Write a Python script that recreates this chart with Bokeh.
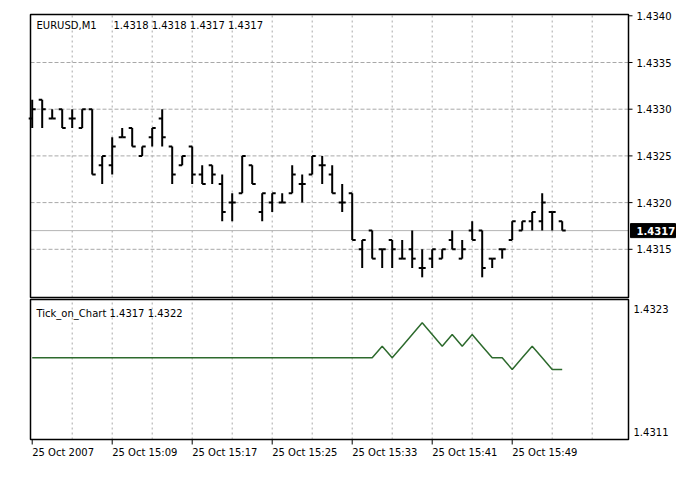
import numpy as np
from bokeh.plotting import figure
from bokeh.models import ColumnDataSource, Range1d
from bokeh.core.properties import value
from bokeh.embed import file_html
from bokeh.resources import INLINE

# ---------------- data ----------------
symbol = "EURUSD,M1"
indicator_name = "Tick_on_Chart"

opens = [1.4329, 1.4331, 1.4329, 1.4330, 1.4329, 1.4328, 1.4330, 1.4324, 1.4324, 1.4327,
         1.4328, 1.4325, 1.4327, 1.4329, 1.4326, 1.4324, 1.4326, 1.4323, 1.4324, 1.4322,
         1.4320, 1.4321, 1.4324, 1.4319, 1.4320, 1.4320, 1.4321, 1.4322, 1.4323, 1.4324,
         1.4323, 1.4320, 1.4321, 1.4315, 1.4317, 1.4315, 1.4316, 1.4314, 1.4315, 1.4313,
         1.4314, 1.4314, 1.4316, 1.4314, 1.4317, 1.4317, 1.4314, 1.4315, 1.4316, 1.4317,
         1.4318, 1.4318, 1.4319, 1.4318]
highs = [1.4331, 1.4331, 1.4330, 1.4330, 1.4330, 1.4330, 1.4330, 1.4325, 1.4327, 1.4328,
         1.4328, 1.4326, 1.4328, 1.4330, 1.4326, 1.4325, 1.4326, 1.4324, 1.4324, 1.4323,
         1.4321, 1.4325, 1.4324, 1.4321, 1.4321, 1.4321, 1.4324, 1.4323, 1.4325, 1.4325,
         1.4324, 1.4322, 1.4321, 1.4316, 1.4317, 1.4315, 1.4316, 1.4316, 1.4317, 1.4315,
         1.4315, 1.4315, 1.4317, 1.4316, 1.4318, 1.4317, 1.4314, 1.4315, 1.4318, 1.4318,
         1.4319, 1.4321, 1.4319, 1.4318]
lows = [1.4328, 1.4328, 1.4329, 1.4328, 1.4328, 1.4328, 1.4323, 1.4322, 1.4323, 1.4327,
        1.4326, 1.4325, 1.4326, 1.4326, 1.4322, 1.4324, 1.4322, 1.4322, 1.4322, 1.4318,
        1.4318, 1.4321, 1.4322, 1.4318, 1.4319, 1.4320, 1.4321, 1.4320, 1.4323, 1.4322,
        1.4321, 1.4319, 1.4316, 1.4313, 1.4314, 1.4313, 1.4313, 1.4314, 1.4313, 1.4312,
        1.4313, 1.4314, 1.4315, 1.4314, 1.4316, 1.4312, 1.4313, 1.4314, 1.4316, 1.4317,
        1.4317, 1.4317, 1.4317, 1.4317]
closes = [1.4330, 1.4330, 1.4329, 1.4328, 1.4329, 1.4330, 1.4323, 1.4325, 1.4326, 1.4327,
          1.4326, 1.4326, 1.4328, 1.4327, 1.4323, 1.4325, 1.4323, 1.4322, 1.4323, 1.4319,
          1.4320, 1.4325, 1.4322, 1.4321, 1.4321, 1.4320, 1.4323, 1.4322, 1.4325, 1.4324,
          1.4321, 1.4320, 1.4316, 1.4316, 1.4314, 1.4315, 1.4315, 1.4314, 1.4314, 1.4313,
          1.4315, 1.4315, 1.4315, 1.4315, 1.4316, 1.4313, 1.4314, 1.4315, 1.4318, 1.4318,
          1.4319, 1.4320, 1.4319, 1.4317]

tick_line = [1.4318, 1.4318, 1.4318, 1.4318, 1.4318, 1.4318, 1.4318, 1.4318, 1.4318, 1.4318,
             1.4318, 1.4318, 1.4318, 1.4318, 1.4318, 1.4318, 1.4318, 1.4318, 1.4318, 1.4318,
             1.4318, 1.4318, 1.4318, 1.4318, 1.4318, 1.4318, 1.4318, 1.4318, 1.4318, 1.4318,
             1.4318, 1.4318, 1.4318, 1.4318, 1.4318, 1.4319, 1.4318, 1.4319, 1.4320, 1.4321,
             1.4320, 1.4319, 1.4320, 1.4319, 1.4320, 1.4319, 1.4318, 1.4318, 1.4317, 1.4318,
             1.4319, 1.4318, 1.4317, 1.4317]
tick_second = 1.4322

price_ticks = [1.4315, 1.4320, 1.4325, 1.4330, 1.4335, 1.4340]
price_labels = ["1.4315", "1.4320", "1.4325", "1.4330", "1.4335", "1.4340"]
time_tick_bars = [0, 8, 16, 24, 32, 40, 48]
time_tick_labels = ["25 Oct 2007", "25 Oct 15:09", "25 Oct 15:17", "25 Oct 15:25",
                    "25 Oct 15:33", "25 Oct 15:41", "25 Oct 15:49"]
grid_bars = [4, 8, 12, 16, 20, 24, 28, 32, 36, 40, 44, 48, 52, 56]
ind_min, ind_max = 1.4311, 1.4323
ind_labels = ["1.4323", "1.4311"]

# ---------------- geometry (page pixels) ----------------
FONT = value("DejaVu Sans")
FS = value("10px")
W, H = 688, 470
CH_L, CH_R = 30, 628            # window left / right edge
MAIN_T, MAIN_B = 14, 297        # price window top / bottom edge
IND_T, IND_B = 299, 439         # indicator window top / bottom edge

BAR_PX = 10.0                   # one bar per 10 px
BAR0_PX = 31.7                  # pixel of bar 0
PIP_PX = 9.34                   # pixels per 0.0001 in the price window
REF_PRICE, REF_PX = 1.4330, 108.7
IND_PPU = (ind_max - ind_min) / (IND_B - IND_T)


def xd(px):
    return (px - BAR0_PX) / BAR_PX


def yd(px):
    return REF_PRICE - (px - REF_PX) / PIP_PX * 0.0001


def yi(px):
    return ind_max - (px - IND_T) * IND_PPU


GRID_C = "#a8a8a8"
ypp1 = 0.0001 / PIP_PX

n = len(opens)
idx = np.arange(n)
src = ColumnDataSource(dict(x=idx, xl=idx - 0.35, xr=idx + 0.35,
                            open=opens, high=highs, low=lows, close=closes))

p = figure(width=W, height=H, x_range=Range1d(xd(0), xd(W)), y_range=Range1d(yd(H), yd(0)),
           x_axis_location=None, y_axis_location=None, toolbar_location=None,
           output_backend="svg", min_border_left=0, min_border_right=0,
           min_border_top=0, min_border_bottom=0)
p.extra_y_ranges = {"ind": Range1d(yi(H), yi(0))}
p.grid.visible = False
p.outline_line_color = None

# ---------------- price window ----------------
nb = len(grid_bars)
p.segment(x0=grid_bars, y0=[yd(MAIN_B)] * nb, x1=grid_bars, y1=[yd(MAIN_T)] * nb,
          line_color=GRID_C, line_dash="2 3", line_width=1)
hg = price_ticks[:-1]
p.segment(x0=[xd(CH_L)] * len(hg), y0=hg, x1=[xd(CH_R)] * len(hg), y1=hg,
          line_color=GRID_C, line_dash="4 2", line_width=1)
p.segment(x0=[xd(CH_L)], y0=[closes[-1]], x1=[xd(CH_R)], y1=[closes[-1]],
          line_color="#b4b4b4", line_width=1)

p.segment(x0="x", y0="low", x1="x", y1="high", source=src, line_color="black", line_width=2)
p.segment(x0="xl", y0="open", x1="x", y1="open", source=src, line_color="black", line_width=2)
p.segment(x0="x", y0="close", x1="xr", y1="close", source=src, line_color="black", line_width=2)

p.quad(left=[xd(CH_L)], right=[xd(CH_R)], bottom=[yd(MAIN_B)], top=[yd(MAIN_T)],
       fill_color=None, line_color="black", line_width=1.5)

npt = len(price_ticks)
p.segment(x0=[xd(CH_R)] * npt, y0=price_ticks, x1=[xd(CH_R + 4)] * npt, y1=price_ticks,
          line_color="black", line_width=1)
p.text(x=[xd(CH_R + 8)] * npt, y=price_ticks, text=price_labels,
       text_font=FONT, text_font_size=FS, text_color="black",
       text_align="left", text_baseline="middle")

p.quad(left=[xd(CH_R + 2)], right=[xd(CH_R + 47)],
       bottom=[closes[-1] - 7 * ypp1], top=[closes[-1] + 7 * ypp1],
       fill_color="black", line_color="black")
p.text(x=[xd(CH_R + 8)], y=[closes[-1]], text=[f"{closes[-1]:.4f}"],
       text_font=FONT, text_font_size=FS, text_font_style="bold",
       text_color="white", text_align="left", text_baseline="middle")

# window header: symbol, then the last bar's O H L C
ohlc_text = f"{opens[-1]:.4f} {highs[-1]:.4f} {lows[-1]:.4f} {closes[-1]:.4f}"
p.text(x=[xd(CH_L + 6), xd(CH_L + 83)], y=[yd(MAIN_T + 11)] * 2, text=[symbol, ohlc_text],
       text_font=FONT, text_font_size=FS, text_color="black",
       text_align="left", text_baseline="middle")

# ---------------- indicator window ----------------
p.segment(x0=grid_bars, y0=[yd(IND_B)] * nb, x1=grid_bars, y1=[yd(IND_T)] * nb,
          line_color=GRID_C, line_dash="2 3", line_width=1)
p.line(x=idx, y=tick_line, y_range_name="ind", line_color="#2d6a2d", line_width=1.5)
p.quad(left=[xd(CH_L)], right=[xd(CH_R)], bottom=[yd(IND_B)], top=[yd(IND_T)],
       fill_color=None, line_color="black", line_width=1.5)

ind_text = f"{indicator_name} {tick_line[-1]:.4f} {tick_second:.4f}"
p.text(x=[xd(CH_L + 6)], y=[yi(IND_T + 13.7)], y_range_name="ind", text=[ind_text],
       text_font=FONT, text_font_size=FS, text_color="black",
       text_align="left", text_baseline="middle")
p.text(x=[xd(CH_R + 5)] * 2, y=[yi(IND_T + 9), yi(IND_B - 7.3)], y_range_name="ind",
       text=ind_labels, text_font=FONT, text_font_size=FS, text_color="black",
       text_align="left", text_baseline="middle")

# time scale
nt = len(time_tick_bars)
p.segment(x0=time_tick_bars, y0=[yd(IND_B)] * nt, x1=time_tick_bars, y1=[yd(IND_B + 5)] * nt,
          line_color="black", line_width=1)
p.text(x=time_tick_bars, y=[yd(IND_B + 12.5)] * nt, text=time_tick_labels,
       text_font=FONT, text_font_size=FS, text_color="black",
       text_align="left", text_baseline="middle")

open("out.html", "w").write(file_html(p, INLINE))
